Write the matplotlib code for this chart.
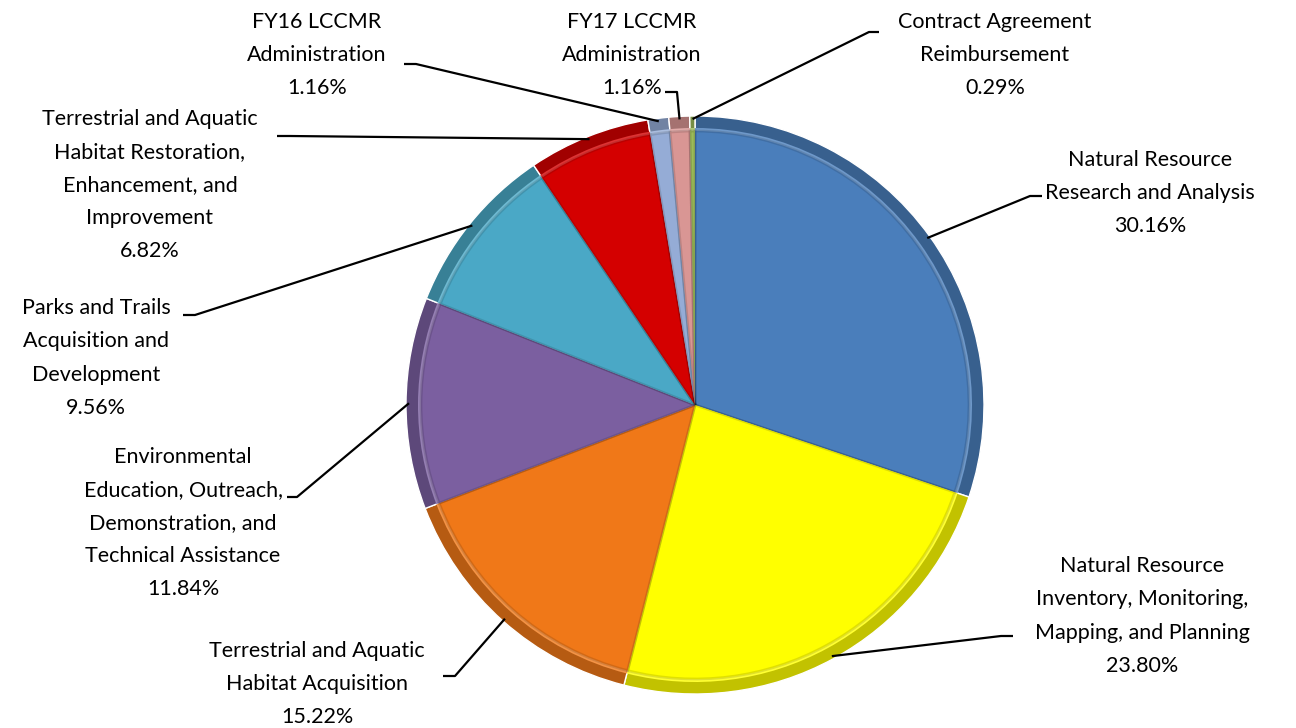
import numpy as np
import matplotlib.pyplot as plt
import matplotlib.colors as mcolors

plt.rcParams['font.family'] = ['Lato', 'DejaVu Sans']

labels = ['Natural Resource\nResearch and Analysis',
          'Natural Resource\nInventory, Monitoring,\nMapping, and Planning',
          'Terrestrial and Aquatic\nHabitat Acquisition',
          'Environmental\nEducation, Outreach,\nDemonstration, and\nTechnical Assistance',
          'Parks and Trails\nAcquisition and\nDevelopment',
          'Terrestrial and Aquatic\nHabitat Restoration,\nEnhancement, and\nImprovement',
          'FY16 LCCMR\nAdministration',
          'FY17 LCCMR\nAdministration',
          'Contract Agreement\nReimbursement']
shares = [30.16, 23.80, 15.22, 11.84, 9.56, 6.82, 1.16, 1.16, 0.29]
colors = ['#4a7ebb', '#ffff00', '#f07818', '#7b5fa0', '#4aa8c6',
          '#d40000', '#95acd6', '#d99694', '#9bbb59']

# label layout in pixels (text centre, leader start, elbow)
label_pos = [(1150, 193), (1142, 616), (317, 684), (183, 523), (96, 358),
             (150, 185), (317, 55), (632, 55), (995, 55)]
leader_start = [(1042, 196), (1013, 636), (443, 676), (287, 497), (183, 315),
                (277, 136), (404, 64), (665, 92), (879, 32)]
leader_elbow = [(1030, 196), (1001, 636), (455, 676), (297, 497), (195, 315),
                (290, 136), (416, 64), (677, 92), (869, 32)]

W, H = 1296, 728
cx, cy, R = 695, H - 405, 289

fig = plt.figure(figsize=(12.96, 7.28), dpi=100)
ax = fig.add_axes([0, 0, 1, 1])


def shade(c, f):
    rgb = np.array(mcolors.to_rgb(c))
    return tuple(rgb * f)


def tint(c, f):
    rgb = np.array(mcolors.to_rgb(c))
    return tuple(rgb + (1 - rgb) * f)


# bevel look: dark rim, thin light ring, base fill
ax.pie(shares, colors=[shade(c, 0.76) for c in colors], radius=R,
       center=(cx, cy), startangle=90, counterclock=False,
       wedgeprops=dict(edgecolor='white', linewidth=1.0), frame=True)
ax.pie(shares, colors=[tint(c, 0.2) for c in colors], radius=R - 12,
       center=(cx, cy), startangle=90, counterclock=False,
       wedgeprops=dict(edgecolor='none', linewidth=0), frame=True)
ax.pie(shares, colors=colors, radius=R - 15,
       center=(cx, cy), startangle=90, counterclock=False,
       wedgeprops=dict(edgecolor=(0, 0, 0, 0.12), linewidth=2), frame=True)
ax.set_xlim(0, W)
ax.set_ylim(0, H)
ax.set_aspect('equal')
ax.axis('off')

cum = np.cumsum([0] + shares)
for i, (lab, v) in enumerate(zip(labels, shares)):
    mid = 90 - (cum[i] + v / 2) / 100 * 360
    ex = cx + (R - 3) * np.cos(np.radians(mid))
    ey = cy + (R - 3) * np.sin(np.radians(mid))
    sx, sy = leader_start[i]
    kx, ky = leader_elbow[i]
    ax.plot([sx, kx, ex], [H - sy, H - ky, ey], color='black', lw=1.6,
            solid_capstyle='butt', zorder=5)
    tx, ty = label_pos[i]
    ax.text(tx, H - ty, f'{lab}\n{v:.2f}%', ha='center', va='center',
            fontsize=15.5, linespacing=1.82, color='black')

fig.savefig('out.png', dpi=100)
